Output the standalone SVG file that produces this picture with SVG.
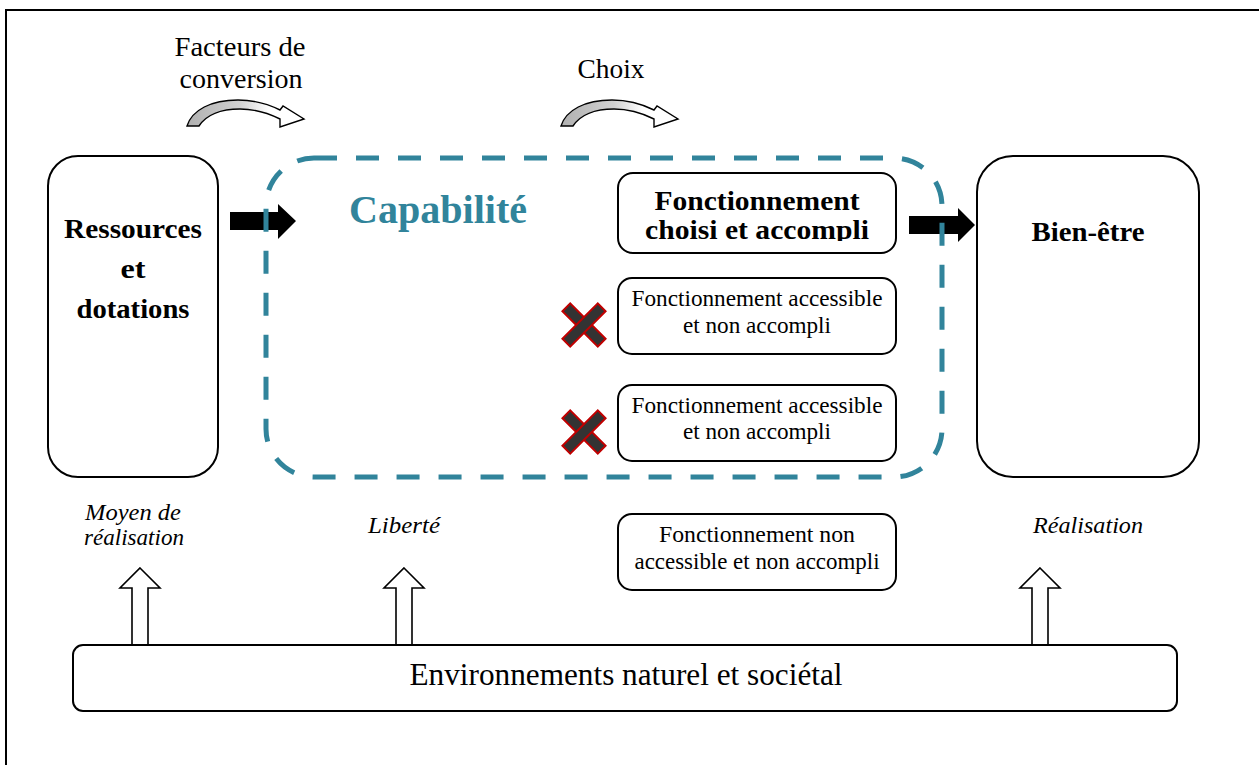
<svg xmlns="http://www.w3.org/2000/svg" width="1259" height="765" viewBox="0 0 1259 765">
  <style>
    text { font-family: "Liberation Serif", "DejaVu Serif", "Noto Serif", "Times New Roman", Times, serif; fill: #000; }
    .box { fill: #fff; stroke: #000; stroke-width: 2; }
    .bold { font-weight: bold; font-size: 28px; }
    .reg { font-size: 23px; }
    .ital { font-style: italic; font-size: 24px; }
    .top { font-size: 28px; }
    .big { fill: #000; }
    .hollow { fill: #fff; stroke: #000; stroke-width: 1.6; stroke-linejoin: miter; }
    .curve { fill: url(#grayfade); stroke: #000; stroke-width: 1.4; stroke-linejoin: miter; }
    .xbar { fill: #333; stroke: #c00000; stroke-width: 2; }
    .dash { fill: none; stroke: #31849B; stroke-width: 5; stroke-dasharray: 23 19; }
  </style>
  <defs>
    <linearGradient id="grayfade" x1="0" y1="0" x2="1" y2="0">
      <stop offset="0" stop-color="#b0b0b0"/>
      <stop offset="0.45" stop-color="#d0d0d0"/>
      <stop offset="0.7" stop-color="#ffffff"/>
      <stop offset="1" stop-color="#ffffff"/>
    </linearGradient>
    <clipPath id="clipChoisi">
      <rect x="618" y="173" width="278" height="68"/>
    </clipPath>
    <path id="curvedArrow" d="M187,126 C192,110 211,100 238,100 C256,100 270,105 280,110 L283,106 L304,119 L280,127 L280,119 C268,113 255,109 240,109 C221,109 206,115 199,126 Z"/>
  </defs>

  <rect width="1259" height="765" fill="#fff"/>

  <!-- outer frame -->
  <g id="frame">
    <path d="M6,770 L6,10 L1262,10" fill="none" stroke="#000" stroke-width="2"/>
  </g>

  <!-- connectors -->
  <g id="connectors">
    <use href="#curvedArrow" class="curve"/>
    <use href="#curvedArrow" class="curve" transform="translate(374,0)"/>
    <polygon class="big" points="230,212 278,212 278,204 296,221 278,239 278,230 230,230"/>
    <polygon class="big" points="909,216 958,216 958,208 975,225 958,242 958,234 909,234"/>
    <polygon class="hollow" points="140,568 160,588 148,588 148,645 132,645 132,588 120,588"/>
    <polygon class="hollow" points="404,568 424,588 412,588 412,645 396,645 396,588 384,588"/>
    <polygon class="hollow" points="1040,568 1060,588 1048,588 1048,645 1032,645 1032,588 1020,588"/>
  </g>

  <g id="label-facteurs">
    <text class="top" x="240" y="56" text-anchor="middle" textLength="131" lengthAdjust="spacingAndGlyphs">Facteurs de</text>
    <text class="top" x="241" y="88" text-anchor="middle" textLength="123" lengthAdjust="spacingAndGlyphs">conversion</text>
  </g>
  <g id="label-choix">
    <text x="611" y="78" text-anchor="middle" style="font-size:27px" textLength="67" lengthAdjust="spacingAndGlyphs">Choix</text>
  </g>

  <g id="node-ressources">
    <rect class="box" x="48" y="156" width="170" height="321" rx="30"/>
    <text class="bold" x="133" y="238" text-anchor="middle" textLength="138" lengthAdjust="spacingAndGlyphs">Ressources</text>
    <text class="bold" x="133" y="278" text-anchor="middle" textLength="25" lengthAdjust="spacingAndGlyphs">et</text>
    <text class="bold" x="133" y="318" text-anchor="middle" textLength="113" lengthAdjust="spacingAndGlyphs">dotations</text>
  </g>

  <g id="node-bienetre">
    <rect class="box" x="977" y="156" width="222" height="321" rx="36"/>
    <text class="bold" x="1088" y="241" text-anchor="middle" textLength="113" lengthAdjust="spacingAndGlyphs">Bien-être</text>
  </g>

  <g id="node-choisi">
    <rect class="box" x="618" y="173" width="278" height="80" rx="15"/>
    <g clip-path="url(#clipChoisi)">
      <text class="bold" x="757" y="210" text-anchor="middle" textLength="205" lengthAdjust="spacingAndGlyphs">Fonctionnement</text>
      <text class="bold" x="757" y="239" text-anchor="middle" textLength="224" lengthAdjust="spacingAndGlyphs">choisi et accompli</text>
    </g>
  </g>

  <g id="node-accessible-1">
    <rect class="box" x="618" y="278" width="278" height="76" rx="14"/>
    <text class="reg" x="757" y="306" text-anchor="middle" textLength="251" lengthAdjust="spacingAndGlyphs">Fonctionnement accessible</text>
    <text class="reg" x="757" y="333" text-anchor="middle" textLength="148" lengthAdjust="spacingAndGlyphs">et non accompli</text>
  </g>

  <g id="node-accessible-2">
    <rect class="box" x="618" y="385" width="278" height="76" rx="14"/>
    <text class="reg" x="757" y="413" text-anchor="middle" textLength="251" lengthAdjust="spacingAndGlyphs">Fonctionnement accessible</text>
    <text class="reg" x="757" y="439" text-anchor="middle" textLength="148" lengthAdjust="spacingAndGlyphs">et non accompli</text>
  </g>

  <g id="node-non-accessible">
    <rect class="box" x="618" y="514" width="278" height="76" rx="14"/>
    <text class="reg" x="757" y="542" text-anchor="middle" textLength="196" lengthAdjust="spacingAndGlyphs">Fonctionnement non</text>
    <text class="reg" x="757" y="569" text-anchor="middle" textLength="245" lengthAdjust="spacingAndGlyphs">accessible et non accompli</text>
  </g>

  <g id="cross-1" transform="translate(584,325)">
    <rect class="xbar" x="-25" y="-5.5" width="50" height="11" transform="rotate(45)"/>
    <rect class="xbar" x="-25" y="-5.5" width="50" height="11" transform="rotate(-45)"/>
  </g>
  <g id="cross-2" transform="translate(584,432)">
    <rect class="xbar" x="-25" y="-5.5" width="50" height="11" transform="rotate(45)"/>
    <rect class="xbar" x="-25" y="-5.5" width="50" height="11" transform="rotate(-45)"/>
  </g>

  <g id="node-capabilite">
    <rect class="dash" x="266" y="158" width="676" height="319" rx="48"/>
    <text x="438" y="223" text-anchor="middle" style="font-size:40px;font-weight:bold;fill:#31849B" textLength="178" lengthAdjust="spacingAndGlyphs">Capabilité</text>
  </g>

  <g id="labels-bottom">
    <text class="ital" x="133" y="520" text-anchor="middle" textLength="96" lengthAdjust="spacingAndGlyphs">Moyen de</text>
    <text class="ital" x="134" y="545" text-anchor="middle" textLength="100" lengthAdjust="spacingAndGlyphs">réalisation</text>
    <text class="ital" x="404" y="533" text-anchor="middle" textLength="72" lengthAdjust="spacingAndGlyphs">Liberté</text>
    <text class="ital" x="1088" y="533" text-anchor="middle" textLength="110" lengthAdjust="spacingAndGlyphs">Réalisation</text>
  </g>

  <g id="node-environnements">
    <rect class="box" x="73" y="645" width="1104" height="66" rx="10"/>
    <text x="626" y="685" text-anchor="middle" style="font-size:31px" textLength="433" lengthAdjust="spacingAndGlyphs">Environnements naturel et sociétal</text>
  </g>
</svg>
